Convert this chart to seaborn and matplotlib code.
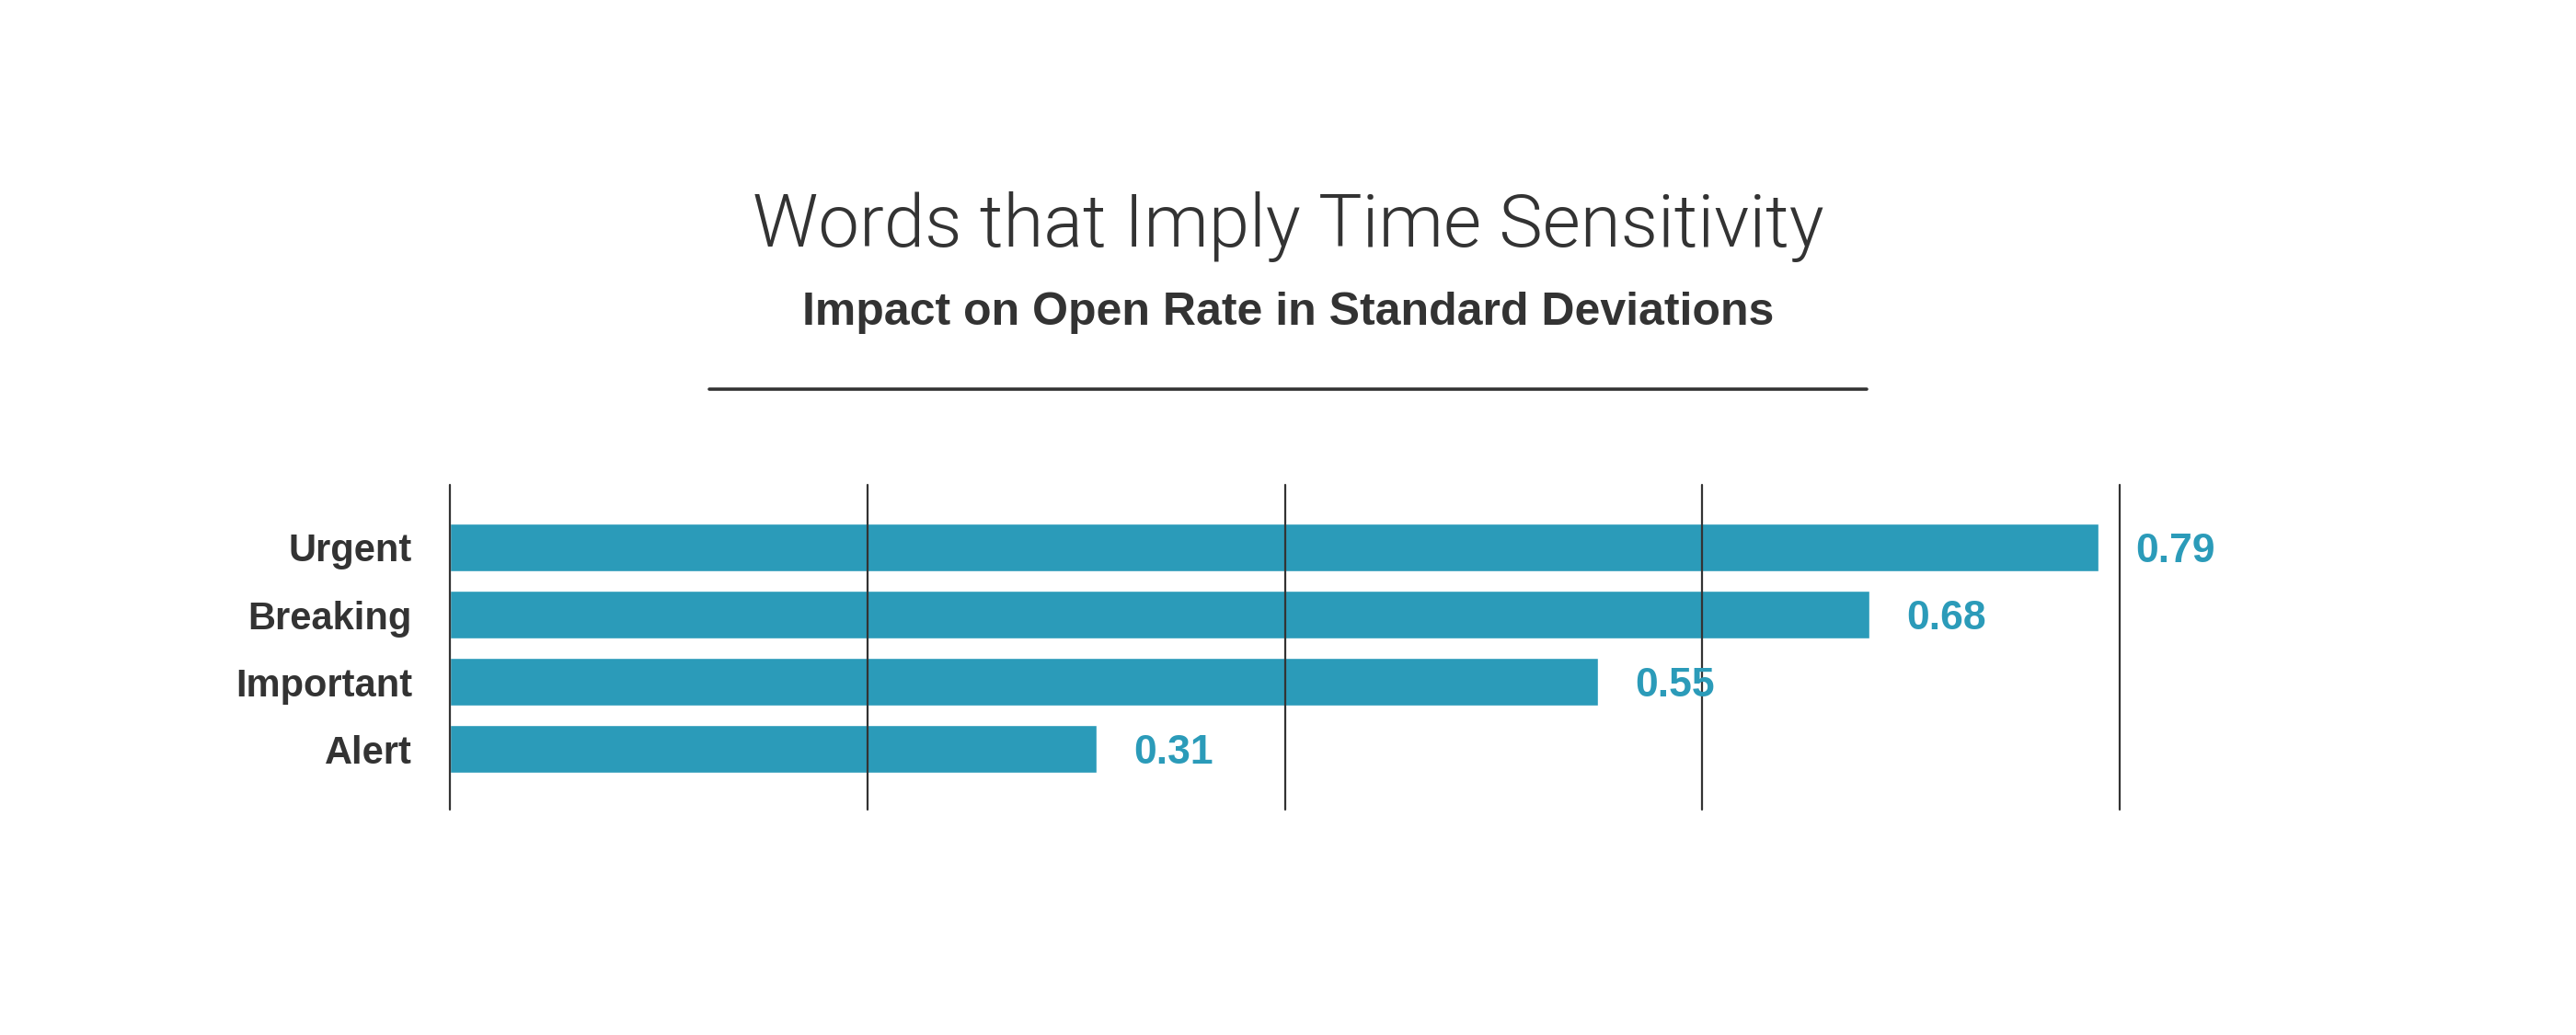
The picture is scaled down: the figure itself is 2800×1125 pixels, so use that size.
import matplotlib
matplotlib.use("Agg")
import matplotlib.pyplot as plt
import seaborn as sns
import pandas as pd
from matplotlib.lines import Line2D

# ---- data ----
words = ["Urgent", "Breaking", "Important", "Alert"]
impact = [0.79, 0.68, 0.55, 0.31]
value_labels = ["0.79", "0.68", "0.55", "0.31"]
grid_ticks = [0.0, 0.2, 0.4, 0.6, 0.8]

title = "Words that Imply Time Sensitivity"
subtitle = "Impact on Open Rate in Standard Deviations"

BAR = "#2B9BB9"
DARK = "#333333"

sns.set_theme(style="white")
plt.rcParams['font.family'] = ['Liberation Sans', 'DejaVu Sans']

W, H = 2800, 1125
fig = plt.figure(figsize=(W / 100, H / 100), dpi=100)
fig.patch.set_facecolor("white")

ax = fig.add_axes([489 / W, 1 - 880 / H, (2304 - 489) / W, (880 - 527) / H])
df = pd.DataFrame({"word": words, "impact": impact})
sns.barplot(data=df, x="impact", y="word", orient="h", color=BAR,
            saturation=1, width=0.71, ax=ax, zorder=2)

ax.set_xlim(0, 0.8)
ax.set_ylim(3.9, -0.93)

for g in grid_ticks:
    ax.axvline(g, color=DARK, lw=1.6, zorder=3, clip_on=False)

for i, (v, lab) in enumerate(zip(impact, value_labels)):
    ax.annotate(lab, xy=(v, i), xytext=(29, 0), textcoords="offset points",
                ha="left", va="center_baseline", fontsize=32,
                fontweight="bold", color=BAR)

for s in ax.spines.values():
    s.set_visible(False)
ax.set_xticks([])
ax.set_xlabel("")
ax.set_ylabel("")
ax.tick_params(axis="y", length=0, pad=29.5)
for t in ax.get_yticklabels():
    t.set_fontsize(30)
    t.set_fontweight("bold")
    t.set_color(DARK)
ax.set_facecolor("none")

fig.text(0.5, 1 - 268 / H, title, ha="center", va="baseline", fontsize=57.3,
         fontweight=300, color=DARK, family=["Roboto", "DejaVu Sans"])
fig.text(0.5, 1 - 353 / H, subtitle, ha="center", va="baseline", fontsize=36,
         fontweight="bold", color=DARK)
fig.add_artist(Line2D([771 / W, 2029 / W], [1 - 423 / H, 1 - 423 / H],
                      color=DARK, lw=2.6, transform=fig.transFigure))

fig.savefig("out.png", dpi=100, facecolor="white")
